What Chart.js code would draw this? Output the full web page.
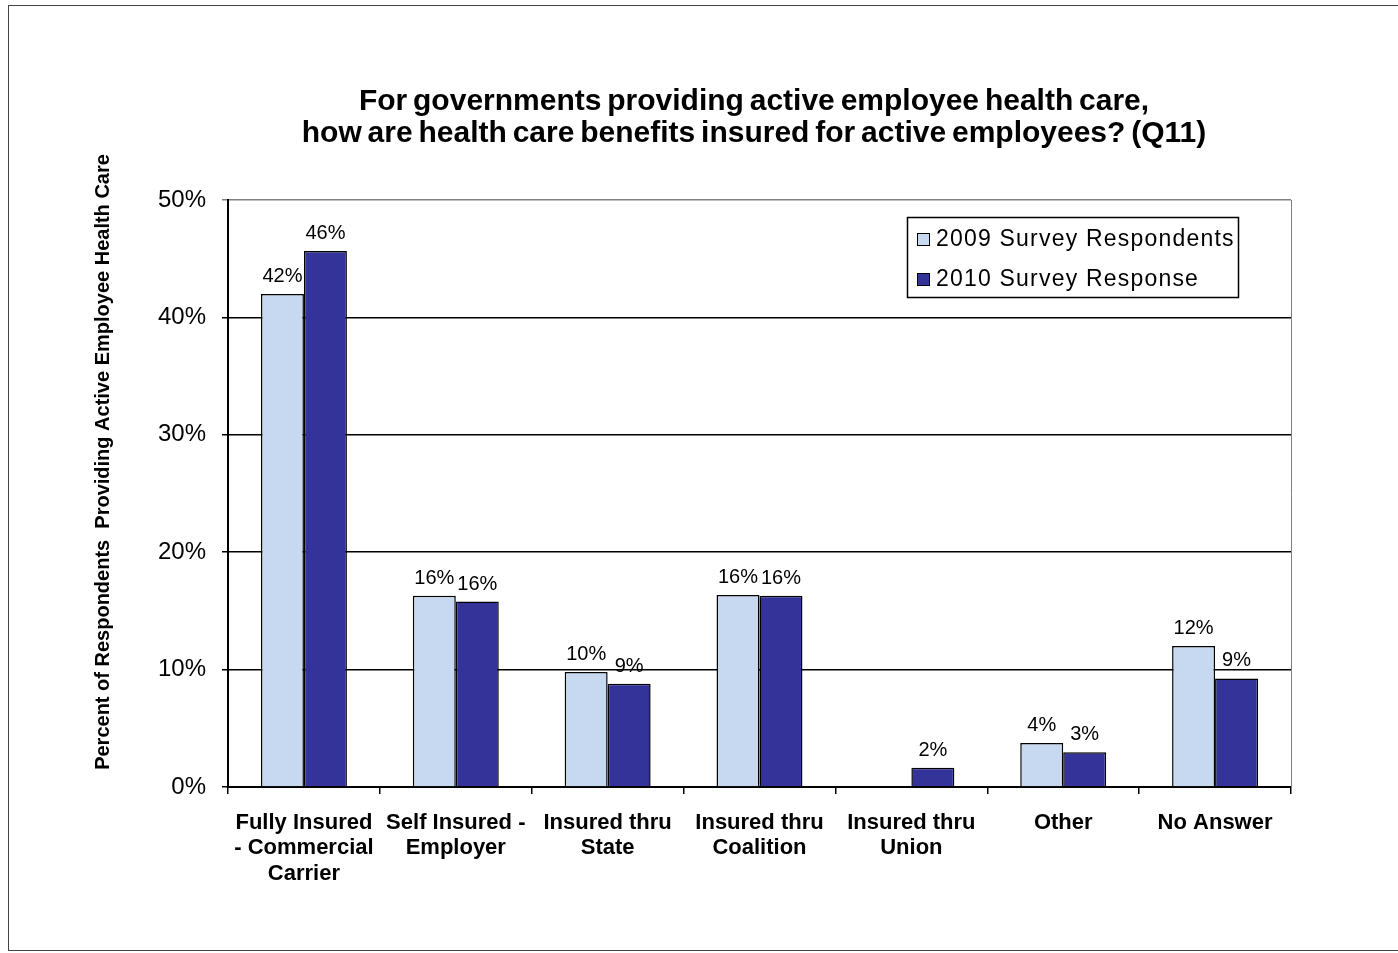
<!DOCTYPE html>
<html>
<head>
<meta charset="utf-8">
<title>Health care benefits insured for active employees</title>
<script src="https://cdn.jsdelivr.net/npm/chart.js@4/dist/chart.umd.min.js"></script>
<style>
  html, body { margin: 0; padding: 0; background: #fff; }
  #wrap { width: 1398px; height: 953px; position: relative; }
</style>
</head>
<body>
<div id="wrap"><canvas id="insuredChart" width="1398" height="953"></canvas></div>
<script>
// categories (multi-line labels) and the two survey years
var categories = [
  ['Fully Insured', '- Commercial', 'Carrier'],
  ['Self Insured -', 'Employer'],
  ['Insured thru', 'State'],
  ['Insured thru', 'Coalition'],
  ['Insured thru', 'Union'],
  ['Other'],
  ['No Answer']
];
var seriesNames = ['2009 Survey Respondents', '2010 Survey Response'];
var values2009 = [42.0, 16.3, 9.8, 16.35, null, 3.75, 12.0];
var values2010 = [45.65, 15.8, 8.8, 16.3, 1.65, 2.95, 9.25];
var yTicks = [0, 10, 20, 30, 40, 50];

var titleLines = [
  'For governments providing active employee health care,',
  'how are health care benefits insured for active employees? (Q11)'
];
var yTitle = 'Percent of Respondents  Providing Active Employee Health Care';

var FONT = '"Liberation Sans", Arial, sans-serif';
var LIGHT = '#c6d9f0';
var DARK = '#333399';

// frame, titles, legend box, right border and value labels
var decorations = {
  id: 'decorations',
  afterDraw: function(chart) {
    var ctx = chart.ctx;
    var area = chart.chartArea;
    ctx.save();

    // outer frame
    ctx.strokeStyle = '#444';
    ctx.lineWidth = 1;
    ctx.strokeRect(8.5, 5.5, 1420, 945);

    // right edge of plot area
    ctx.strokeStyle = '#808080';
    ctx.beginPath();
    ctx.moveTo(area.right + 0.5, area.top);
    ctx.lineTo(area.right + 0.5, area.bottom);
    ctx.stroke();

    // main title
    ctx.fillStyle = '#000';
    ctx.textAlign = 'center';
    ctx.textBaseline = 'middle';
    ctx.font = 'bold 30px ' + FONT;
    if ('wordSpacing' in ctx) ctx.wordSpacing = '-2.5px';
    ctx.fillText(titleLines[0], 754, 102);
    ctx.fillText(titleLines[1], 754, 134);
    if ('wordSpacing' in ctx) ctx.wordSpacing = '0px';

    // y axis title
    ctx.save();
    ctx.translate(103, 462);
    ctx.rotate(-Math.PI / 2);
    ctx.font = 'bold 20px ' + FONT;
    ctx.fillText(yTitle, 0, 0);
    ctx.restore();

    // value labels above bars
    ctx.font = '20px ' + FONT;
    ctx.textBaseline = 'alphabetic';
    chart.data.datasets.forEach(function(ds, i) {
      var meta = chart.getDatasetMeta(i);
      meta.data.forEach(function(bar, j) {
        var v = ds.data[j];
        if (v === null || v === undefined) return;
        ctx.fillText(Math.round(v) + '%', bar.x, bar.y - 12);
      });
    });

    // legend
    var lx = 907, ly = 217, lw = 331, lh = 80;
    ctx.fillStyle = '#fff';
    ctx.fillRect(lx, ly, lw, lh);
    ctx.strokeStyle = '#000';
    ctx.lineWidth = 1.5;
    ctx.strokeRect(lx + 0.5, ly + 0.5, lw, lh);
    ctx.textAlign = 'left';
    ctx.textBaseline = 'middle';
    ctx.font = '23px ' + FONT;
    if ('letterSpacing' in ctx) ctx.letterSpacing = '1.2px';
    chart.data.datasets.forEach(function(ds, i) {
      var cy = ly + 22 + i * 40;
      ctx.fillStyle = ds.backgroundColor;
      ctx.fillRect(917, cy - 6, 13, 13);
      ctx.strokeStyle = '#000';
      ctx.lineWidth = 1;
      ctx.strokeRect(917.5, cy - 5.5, 12, 12);
      ctx.fillStyle = '#000';
      ctx.fillText(ds.label, 936, cy + 1);
    });
    ctx.restore();
  }
};

new Chart(document.getElementById('insuredChart'), {
  type: 'bar',
  data: {
    labels: categories,
    datasets: [
      {
        label: seriesNames[0],
        data: values2009,
        backgroundColor: LIGHT,
        borderColor: '#000',
        borderWidth: 1.5,
        borderSkipped: 'bottom',
        categoryPercentage: 0.566,
        barPercentage: 1.0
      },
      {
        label: seriesNames[1],
        data: values2010,
        backgroundColor: DARK,
        borderColor: '#000',
        borderWidth: 1.5,
        borderSkipped: 'bottom',
        categoryPercentage: 0.566,
        barPercentage: 1.0
      }
    ]
  },
  options: {
    responsive: false,
    animation: false,
    layout: { padding: { top: 200, right: 107, bottom: 0, left: 0 } },
    plugins: {
      legend: { display: false },
      title: { display: false },
      tooltip: { enabled: false }
    },
    scales: {
      x: {
        afterFit: function(scale) { scale.height = 166; },
        grid: {
          drawOnChartArea: false,
          drawTicks: true,
          tickLength: 7,
          color: '#000',
          lineWidth: 1.5
        },
        border: { display: true, color: '#000', width: 2 },
        ticks: {
          color: '#000',
          padding: 16,
          maxRotation: 0,
          autoSkip: false,
          font: { family: FONT, size: 22, weight: 'bold', lineHeight: 1.16 }
        }
      },
      y: {
        min: yTicks[0],
        max: yTicks[yTicks.length - 1],
        afterFit: function(scale) { scale.width = 228; },
        afterBuildTicks: function(scale) {
          scale.ticks = yTicks.map(function(v) { return { value: v }; });
        },
        grid: {
          drawTicks: true,
          tickLength: 6,
          lineWidth: 1.5,
          color: function(c) { return c.tick && c.tick.value === 50 ? '#808080' : '#000'; }
        },
        border: { display: true, color: '#000', width: 2 },
        ticks: {
          color: '#000',
          padding: 16,
          font: { family: FONT, size: 24 },
          callback: function(v) { return v + '%'; }
        }
      }
    }
  },
  plugins: [decorations]
});
</script>
</body>
</html>
